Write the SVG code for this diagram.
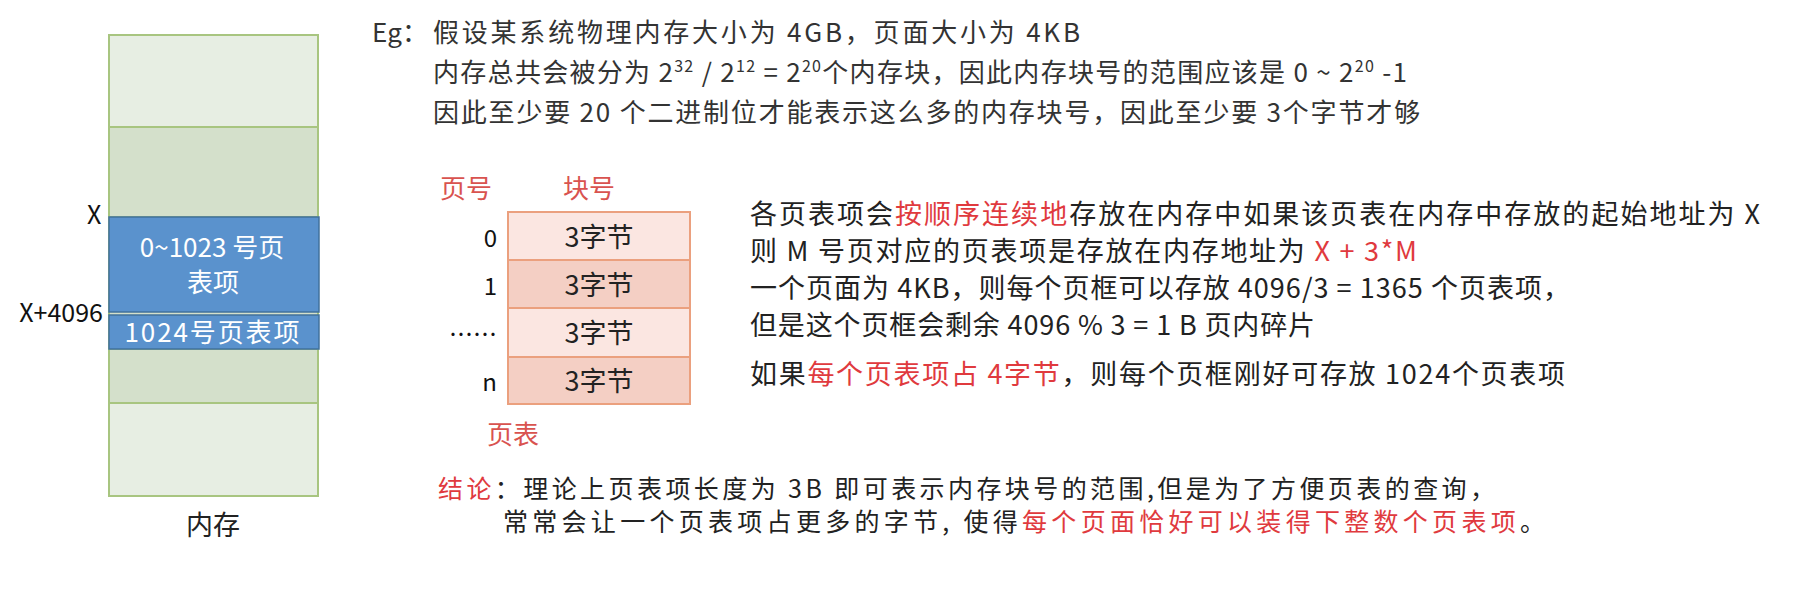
<svg xmlns="http://www.w3.org/2000/svg" width="1802" height="593" viewBox="0 0 1802 593">
<style>
text{font-family:"Noto Sans CJK SC","Noto Sans",sans-serif;}
.t{fill:#333333;font-size:26px;}
.b{fill:#222222;font-size:27px;}
.c{fill:#222222;font-size:25px;}
.r{fill:#E03A3E;}
.lbl{fill:#D9534F;font-size:26px;}
.w{fill:#FFFFFF;font-size:26px;text-anchor:middle;}
.k{fill:#111111;font-size:25px;}
.cell{fill:#222222;font-size:27px;text-anchor:middle;}
.num{fill:#111111;font-size:24px;text-anchor:end;}
.lg{fill:#E7EEE3;stroke:#A8C580;stroke-width:2;}
.dg{fill:#D4E0CB;stroke:#A8C580;stroke-width:2;}
.bl{fill:#5A92CD;stroke:#41719C;stroke-width:1.5;}
.r1{fill:#FBE6E1;stroke:#EBA07E;stroke-width:2;}
.r2{fill:#F4CFC4;stroke:#EBA07E;stroke-width:2;}
</style>

<g id="memory">
  <rect class="lg" x="109" y="35" width="209" height="92"/>
  <rect class="dg" x="109" y="127" width="209" height="90"/>
  <rect class="dg" x="109" y="349" width="209" height="54"/>
  <rect class="lg" x="109" y="403" width="209" height="93"/>
  <rect class="dg" x="109" y="217" width="209" height="132"/>
  <text class="k" x="87" y="224">X</text>
  <text class="k" x="103" y="322" text-anchor="end">X+4096</text>
  <text x="213" y="535" fill="#222" font-size="27" text-anchor="middle">内存</text>
</g>

<g id="pte-block-0-1023">
  <rect class="bl" x="109" y="217" width="210" height="95"/>
  <text class="w" x="212" y="257">0~1023 号页</text>
  <text class="w" x="213" y="292">表项</text>
</g>

<g id="pte-block-1024">
  <rect class="bl" x="109" y="315" width="210" height="34"/>
  <text class="w" x="212" y="342" textLength="175">1024号页表项</text>
</g>

<g id="page-table">
  <text class="lbl" x="440" y="198">页号</text>
  <text class="lbl" x="563" y="198">块号</text>
  <rect class="r1" x="508" y="212" width="182" height="48"/>
  <rect class="r2" x="508" y="260" width="182" height="48"/>
  <rect class="r1" x="508" y="308" width="182" height="49"/>
  <rect class="r2" x="508" y="357" width="182" height="47"/>
  <text class="cell" x="599" y="247">3字节</text>
  <text class="cell" x="599" y="295">3字节</text>
  <text class="cell" x="599" y="343">3字节</text>
  <text class="cell" x="599" y="391">3字节</text>
  <text class="num" x="497" y="247">0</text>
  <text class="num" x="497" y="295">1</text>
  <text class="num" x="497" y="343">……</text>
  <text class="num" x="497" y="391">n</text>
  <text class="lbl" x="487" y="444">页表</text>
</g>

<g id="example-text">
  <text class="t" x="372" y="42">Eg：</text>
  <text class="t" x="433" y="42" textLength="647">假设某系统物理内存大小为 4GB，页面大小为 4KB</text>
  <text class="t" x="433" y="82" textLength="974">内存总共会被分为 2<tspan font-size="16" dy="-10">32</tspan><tspan dy="10"> / 2</tspan><tspan font-size="16" dy="-10">12</tspan><tspan dy="10"> = 2</tspan><tspan font-size="16" dy="-10">20</tspan><tspan dy="10">个内存块，因此内存块号的范围应该是 0 ~ 2</tspan><tspan font-size="16" dy="-10">20</tspan><tspan dy="10"> -1</tspan></text>
  <text class="t" x="433" y="122" textLength="987">因此至少要 20 个二进制位才能表示这么多的内存块号，因此至少要 3个字节才够</text>
</g>

<g id="explain-text">
  <text class="b" x="750" y="224" textLength="1010">各页表项会<tspan class="r">按顺序连续地</tspan>存放在内存中如果该页表在内存中存放的起始地址为 X</text>
  <text class="b" x="750" y="261" textLength="667">则 M 号页对应的页表项是存放在内存地址为 <tspan class="r">X + 3*M</tspan></text>
  <text class="b" x="750" y="298" textLength="820">一个页面为 4KB，则每个页框可以存放 4096/3 = 1365 个页表项，</text>
  <text class="b" x="750" y="335" textLength="565">但是这个页框会剩余 4096 % 3 = 1 B 页内碎片</text>
  <text class="b" x="750" y="384" textLength="815">如果<tspan class="r">每个页表项占 4字节</tspan>，则每个页框刚好可存放 1024个页表项</text>
</g>

<g id="conclusion-text">
  <text class="c" x="438" y="498" textLength="1057"><tspan class="r">结论</tspan>：理论上页表项长度为 3B 即可表示内存块号的范围,但是为了方便页表的查询，</text>
  <text class="c" x="503" y="531" textLength="1042">常常会让一个页表项占更多的字节, 使得<tspan class="r">每个页面恰好可以装得下整数个页表项</tspan>。</text>
</g>
</svg>
